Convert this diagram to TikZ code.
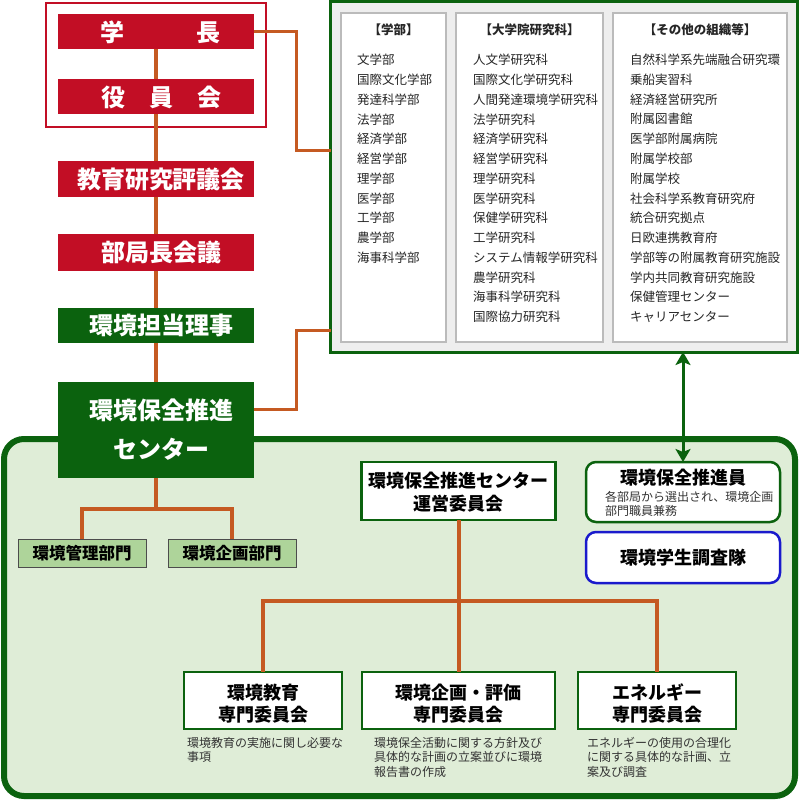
\documentclass[tikz,border=0pt]{standalone}
\usepackage{fontspec}
\newfontfamily\jp{Noto Sans CJK JP}
\usetikzlibrary{arrows.meta}
\definecolor{univred}{HTML}{C20E25}
\definecolor{dgreen}{HTML}{0B620E}
\definecolor{conncol}{HTML}{C55A22}
\definecolor{lgreen}{HTML}{DFEDD7}
\definecolor{deptfill}{HTML}{AED49A}
\definecolor{grayfill}{HTML}{EEEEEE}
\definecolor{colborder}{HTML}{BBBBBB}
\definecolor{bluebd}{HTML}{1A1ACC}
\definecolor{desccol}{HTML}{333333}
\begin{document}
\begin{tikzpicture}[x=1pt,y=-1pt,
  boxbase/.style={rectangle, inner sep=0pt, outer sep=0pt, anchor=center},
  redbox/.style={boxbase, fill=univred, minimum width=196pt},
  greenbox/.style={boxbase, fill=dgreen, minimum width=196pt},
  wtxt/.style={inner sep=0pt, text=white, align=center, font=\jp\bfseries\fontsize{24pt}{39pt}\selectfont},
  conn/.style={draw=conncol, line width=4pt},
  connthin/.style={draw=conncol, line width=3pt},
  colbox/.style={boxbase, fill=white, draw=colborder, line width=1.5pt},
  colhead/.style={inner sep=0pt, font=\jp\bfseries\fontsize{12.5pt}{16pt}\selectfont, text=black!85},
  colitem/.style={inner sep=0pt, anchor=west, font=\jp\fontsize{12.5pt}{16pt}\selectfont, text=black!85},
  whitebox/.style={boxbase, fill=white, draw=dgreen, line width=2.5pt},
  btxt/.style={inner sep=0pt, align=center, font=\jp\bfseries\fontsize{18pt}{22.5pt}\selectfont, text=black},
  deptbox/.style={boxbase, fill=deptfill, draw=black!70, line width=1pt, minimum width=128pt, minimum height=28pt, font=\jp\bfseries\fontsize{16.5pt}{20pt}\selectfont},
  desctxt/.style={inner sep=0pt, anchor=north west, align=left, font=\jp\fontsize{12pt}{14.5pt}\selectfont, text=desccol}
]
\useasboundingbox (0,0) rectangle (800,801);

% bottom green frame
\node[boxbase, draw=dgreen, fill=lgreen, line width=6pt, rounded corners=20pt,
      minimum width=791pt, minimum height=357pt] (frame) at (399.5,617.5) {};

% organisations box
\node[boxbase, draw=dgreen, fill=grayfill, line width=3pt,
      minimum width=467pt, minimum height=350.5pt] (orgs) at (564,176.75) {};
\node[colbox, minimum width=105pt, minimum height=329pt] (col1) at (393.5,177.5) {};
\node[colbox, minimum width=147pt, minimum height=329pt] (col2) at (529.5,177.5) {};
\node[colbox, minimum width=174pt, minimum height=329pt] (col3) at (700,177.5) {};
\node[colhead] (h1) at (393.5,30) {【学部】};
\node[colhead] (h2) at (529.5,30) {【大学院研究科】};
\node[colhead] (h3) at (700,30) {【その他の組織等】};
\foreach \t [count=\i from 0] in {文学部,国際文化学部,発達科学部,法学部,経済学部,経営学部,理学部,医学部,工学部,農学部,海事科学部}
  \node[colitem] (a\i) at (357,60+19.75*\i) {\t};
\foreach \t [count=\i from 0] in {人文学研究科,国際文化学研究科,人間発達環境学研究科,法学研究科,経済学研究科,経営学研究科,理学研究科,医学研究科,保健学研究科,工学研究科,システム情報学研究科,農学研究科,海事科学研究科,国際協力研究科}
  \node[colitem] (b\i) at (473,60+19.75*\i) {\t};
\foreach \t [count=\i from 0] in {自然科学系先端融合研究環,乗船実習科,経済経営研究所,附属図書館,医学部附属病院,附属学校部,附属学校,社会科学系教育研究府,統合研究拠点,日欧連携教育府,学部等の附属教育研究施設,学内共同教育研究施設,保健管理センター,キャリアセンター}
  \node[colitem] (c\i) at (630,60+19.75*\i) {\t};

% red frame and left column
\node[boxbase, draw=univred, line width=1.2pt, minimum width=220pt, minimum height=124pt] (redframe) at (156,65) {};
\node[redbox, minimum height=35pt] (gakucho) at (156,31.5) {};
\node[redbox, minimum height=35pt] (yakuin) at (156,96.5) {};
\node[redbox, minimum height=36pt] (kyoiku) at (156,179) {};
\node[redbox, minimum height=37pt] (bukyoku) at (156,252.5) {};
\node[greenbox, minimum height=35pt] (tanto) at (156,325.5) {};
\node[greenbox, minimum height=96pt] (center) at (156,430) {};

\node[wtxt] (gakucho-t) at (160,32) {学　　　長};
\node[wtxt] (yakuin-t) at (161,97) {役　員　会};
\node[wtxt] (kyoiku-t) at (161,179) {教育研究評議会};
\node[wtxt] (bukyoku-t) at (161,252.5) {部局長会議};
\node[wtxt] (tanto-t) at (161,325.5) {環境担当理事};
\node[wtxt] (center-t) at (161,429.5) {環境保全推進\\センター};

% main vertical connectors
\draw[conn] (gakucho.south) -- (yakuin.north);
\draw[conn] (yakuin.south) -- (kyoiku.north);
\draw[conn] (kyoiku.south) -- (bukyoku.north);
\draw[conn] (bukyoku.south) -- (tanto.north);
\draw[conn] (tanto.south) -- (center.north);

% connectors to organisations box
\coordinate (o1) at (orgs.west |- 0,150);
\coordinate (o2) at (orgs.west |- 0,330);
\coordinate (c1) at (center.east |- 0,409);
\draw[connthin] (gakucho.east) -- ++(42,0) |- (o1);
\draw[connthin] (c1) -- ++(42,0) |- (o2);

% departments
\node[deptbox] (dept1) at (82,553) {環境管理部門};
\node[deptbox] (dept2) at (232,553) {環境企画部門};
\draw[conn] (center.south) -- ++(0,31);
\draw[conn] (dept1.north) -- ++(0,-30) -| (dept2.north);

% right side boxes
\node[whitebox, minimum width=194pt, minimum height=58pt] (unei) at (458.5,491) {};
\node[btxt] (unei-t) at (458.5,492) {環境保全推進センター\\運営委員会};

\node[whitebox, rounded corners=10pt, minimum width=194pt, minimum height=60pt] (suishin) at (683,492) {};
\node[btxt] (suishin-t) at (683,478) {環境保全推進員};
\node[inner sep=0pt, anchor=west, align=left, font=\jp\fontsize{12pt}{14pt}\selectfont, text=desccol] (suishin-s) at (605,504) {各部局から選出され、環境企画\\部門職員兼務};

\node[boxbase, fill=white, draw=bluebd, line width=2.5pt, rounded corners=10pt, minimum width=194pt, minimum height=51pt] (gakusei) at (683,557.5) {};
\node[btxt] (gakusei-t) at (683,557.5) {環境学生調査隊};

\draw[dgreen, line width=3pt, {Stealth[length=13pt,width=15pt,inset=3pt]}-{Stealth[length=13pt,width=15pt,inset=3pt]}]
  (suishin.north |- orgs.south) -- (suishin.north);

% committees
\node[whitebox, minimum width=158pt, minimum height=57pt] (sen1) at (263,700.5) {};
\node[whitebox, minimum width=193pt, minimum height=57pt] (sen2) at (458.5,700.5) {};
\node[whitebox, minimum width=158pt, minimum height=57pt] (sen3) at (657,700.5) {};
\node[btxt] (sen1-t) at (263,703.5) {環境教育\\専門委員会};
\node[btxt] (sen2-t) at (458.5,703.5) {環境企画・評価\\専門委員会};
\node[btxt] (sen3-t) at (657,703.5) {エネルギー\\専門委員会};

\draw[conn] (unei.south) -- (sen2.north);
\draw[conn] (sen1.north) -- ++(0,-71) -| (sen3.north);

\node[desctxt] (d1) at (187,737) {環境教育の実施に関し必要な\\事項};
\node[desctxt] (d2) at (374,737) {環境保全活動に関する方針及び\\具体的な計画の立案並びに環境\\報告書の作成};
\node[desctxt] (d3) at (587,737) {エネルギーの使用の合理化\\に関する具体的な計画、立\\案及び調査};
\end{tikzpicture}
\end{document}
